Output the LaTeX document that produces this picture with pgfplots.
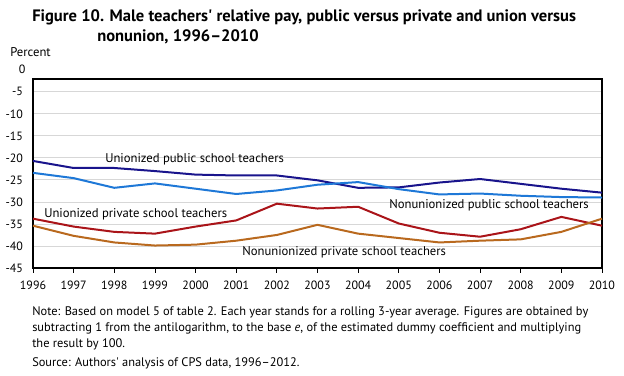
\documentclass[border=0pt]{standalone}
\usepackage{fontspec}
\setmainfont{PT Sans}
\usepackage{pgfplots}
\pgfplotsset{compat=1.18}
\definecolor{cnavy}{RGB}{25,20,140}
\definecolor{clblue}{RGB}{30,120,215}
\definecolor{cred}{RGB}{170,20,25}
\definecolor{cbrown}{RGB}{185,105,30}
\definecolor{cgrid}{RGB}{215,215,215}
\begin{document}
\begin{tikzpicture}[x=1pt,y=1pt]
\useasboundingbox (0,0) rectangle (468,281.25);
\begin{axis}[
  at={(24.75pt,80.25pt)}, anchor=south west,
  scale only axis, width=426.75pt, height=141.75pt,
  xmin=1996, xmax=2010, ymin=-45, ymax=-2.1,
  xtick={1996,...,2010}, ytick={-45,-40,...,-5},
  xticklabel style={/pgf/number format/1000 sep={}},
  /pgf/number format/assume math mode=true,
  ymajorgrids, grid style={cgrid, line width=0.6pt},
  axis line style={black, line width=0.8pt},
  tick style={black, line width=0.6pt},
  xtick pos=bottom, ytick pos=left, tick align=outside,
  ytick style={draw=none},
  major tick length=3.5pt,
  tick label style={font=\fontsize{9}{10}\selectfont},
  yticklabel style={xshift=-0.5pt},
  xticklabel style={yshift=-3pt},
  clip=false,
  every axis plot/.append style={line width=1.5pt, mark=none},
]
\addplot[cnavy] coordinates {(1996,-20.7)(1997,-22.3)(1998,-22.3)(1999,-23.0)(2000,-23.8)(2001,-24.0)(2002,-24.0)(2003,-25.1)(2004,-26.8)(2005,-26.7)(2006,-25.6)(2007,-24.8)(2008,-25.9)(2009,-27.0)(2010,-27.9)};
\addplot[clblue] coordinates {(1996,-23.4)(1997,-24.6)(1998,-26.8)(1999,-25.8)(2000,-27.0)(2001,-28.2)(2002,-27.4)(2003,-26.1)(2004,-25.5)(2005,-27.1)(2006,-28.3)(2007,-28.1)(2008,-28.6)(2009,-28.9)(2010,-29.0)};
\addplot[cred] coordinates {(1996,-33.8)(1997,-35.6)(1998,-36.8)(1999,-37.2)(2000,-35.6)(2001,-34.2)(2002,-30.4)(2003,-31.5)(2004,-31.1)(2005,-34.9)(2006,-37.0)(2007,-37.9)(2008,-36.2)(2009,-33.4)(2010,-35.4)};
\addplot[cbrown] coordinates {(1996,-35.4)(1997,-37.7)(1998,-39.2)(1999,-39.9)(2000,-39.7)(2001,-38.8)(2002,-37.5)(2003,-35.2)(2004,-37.2)(2005,-38.2)(2006,-39.2)(2007,-38.8)(2008,-38.5)(2009,-36.8)(2010,-33.8)};
\end{axis}
\begin{scope}[every node/.style={inner sep=0pt, font=\fontsize{9.5}{11}\selectfont}]
\node[anchor=east, font=\fontsize{9}{10}\selectfont] at (19.25,229.0) {0};
\node[anchor=west] at (7.5,242.25) {Percent};
\node[anchor=west, font=\bfseries\fontsize{12.4}{14}\selectfont] at (24,268.5) {Figure 10. Male teachers\textquotesingle{} relative pay, public versus private and union versus};
\node[anchor=west, font=\bfseries\fontsize{12.4}{14}\selectfont] at (72.75,253.5) {nonunion, 1996--2010};
\node[anchor=west] at (78.75,162) {Unionized public school teachers};
\node[anchor=west] at (33,120.75) {Unionized private school teachers};
\node[anchor=west] at (181.5,92.25) {Nonunionized private school teachers};
\node[anchor=west] at (291.75,127.5) {Nonunionized public school teachers};
\node[anchor=west, font=\fontsize{9.3}{11}\selectfont] at (24,47.25) {Note: Based on model 5 of table 2. Each year stands for a rolling 3-year average. Figures are obtained by};
\node[anchor=west, font=\fontsize{9.3}{11}\selectfont] at (24,35.25) {subtracting 1 from the antilogarithm, to the base \textit{e}, of the estimated dummy coefficient and multiplying};
\node[anchor=west, font=\fontsize{9.3}{11}\selectfont] at (24,23.25) {the result by 100.};
\node[anchor=west, font=\fontsize{9.3}{11}\selectfont] at (24,9) {Source: Authors\textquotesingle{} analysis of CPS data, 1996--2012.};
\end{scope}
\end{tikzpicture}
\end{document}
